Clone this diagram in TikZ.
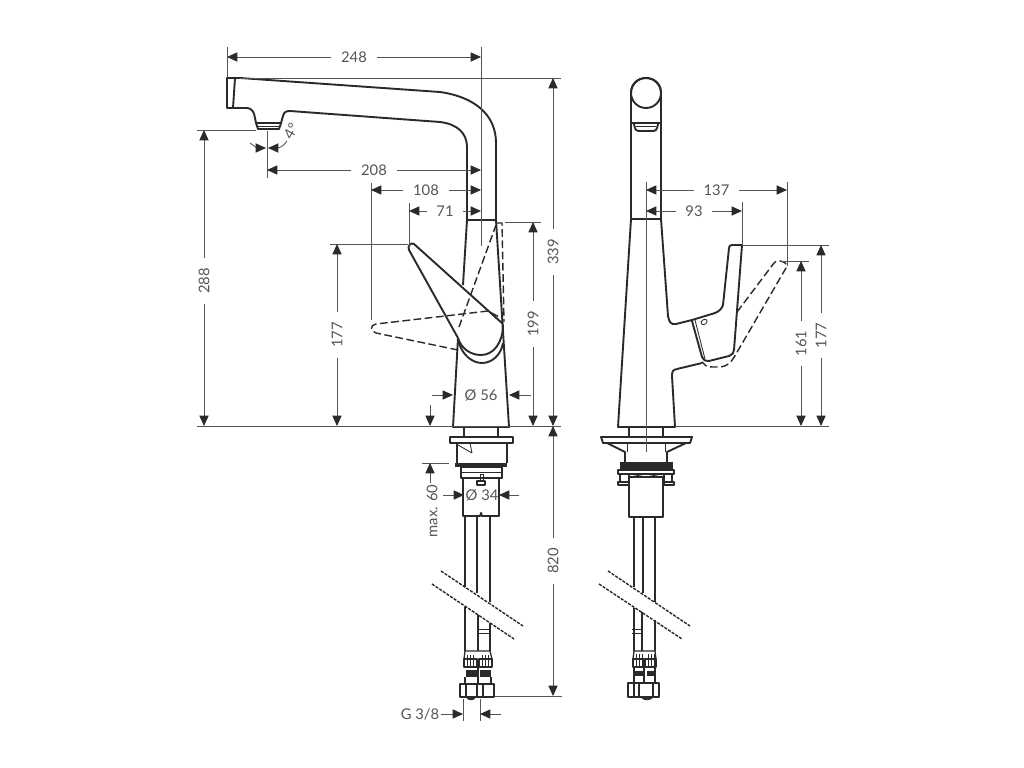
\documentclass[tikz,border=0pt]{standalone}
\usepackage{fontspec}
\setmainfont{Lato}
\usetikzlibrary{arrows.meta}
\definecolor{dimgray}{HTML}{555555}
\definecolor{inkgray}{HTML}{2A2A2A}
\tikzstyle{body} = [draw=inkgray, line width=1.35pt, line join=round]
\tikzstyle{fine} = [draw=inkgray, line width=0.6pt]
\tikzstyle{hidden} = [draw=inkgray, line width=1pt, dash pattern=on 5.5pt off 2.5pt]
\tikzstyle{cut} = [draw=inkgray, line width=1pt, dash pattern=on 2.2pt off 0.9pt]
\tikzstyle{ext} = [draw=dimgray, line width=0.6pt]
\tikzstyle{dim} = [draw=dimgray, line width=0.6pt]
\tikzstyle{dimlabel} = [fill=white, text=dimgray, font=\fontsize{10.5}{12}\selectfont, inner xsep=7pt, inner ysep=1pt]
\tikzstyle{plainlabel} = [text=dimgray, font=\fontsize{10.5}{12}\selectfont, inner sep=1pt]

\begin{document}
\begin{tikzpicture}[x=0.025cm,y=-0.025cm,>={Triangle[length=2.6mm,width=2.3mm,color=inkgray]}]
\useasboundingbox (0,0) rectangle (1024,768);
\fill[white] (0,0) rectangle (1024,768);

% left view, spout
\draw[body] (239,78) -- (227,78) -- (227,108) -- (239,108);
\draw[body] (235,78) -- (233,108);
\draw[body] (239,78) -- (240,78) -- (440,92) .. controls (475,97) and (496,115) .. (496,143) -- (496,220);
\draw[body] (239,108) -- (246,108) .. controls (253,108) and (254,113) .. (255,118) -- (256,123) -- (281,123) -- (283,116) .. controls (284,112) and (286,111) .. (290,111) -- (440,122) .. controls (457,124) and (467,133) .. (467,147) -- (467,220);
\draw[body] (256,123) -- (258,129) -- (279,129) -- (281,123);
\draw[fine] (258,126) -- (279,126);
\draw[body, line width=1.7pt] (467,220) -- (496,220);

% left view, body and lever
\draw[body] (467,220) -- (463,285);
\draw[body] (458,338) -- (453,427) -- (509,427) -- (496,220);
\draw[body] (503,324) -- (414,244) .. controls (411,242) and (407,246) .. (409,250) -- (458,338);
\draw[body] (458,338) .. controls (461,348) and (470,355) .. (481,355) .. controls (494,355) and (503,342) .. (503,325);
\draw[body] (458,340) .. controls (462,356) and (473,363) .. (482,363) .. controls (492,363) and (501,355) .. (503,343);
\draw[hidden] (458,350) -- (376,333) .. controls (370,331) and (370,325) .. (376,324) -- (488,311) -- (501,318);
\draw[hidden] (459,327) -- (496,225);
\draw[hidden] (497,223) -- (502,223) -- (504,322);

% left view, mount
\draw[body] (464,427) -- (464,437);
\draw[body] (498,427) -- (498,437);
\draw[body] (450,437) rectangle (513,443);
\draw[body] (457,443) -- (457,463);
\draw[body] (507,443) -- (507,463);
\fill[inkgray] (455,463) rectangle (507,467);
\draw[body] (461,467) rectangle (502,478);
\draw[fine] (461,472) -- (502,472);
\draw[body] (463,478) -- (463,516) -- (480,516) -- (481,513) -- (482,516) -- (499,516) -- (499,478);
\draw[fine] (458,445) -- (472,453);
\draw[fine] (470,443) -- (472,453);
\draw[body, line width=.9pt] (477,481) rectangle (485,485);
\draw[fine] (480,474) rectangle (483,481);

% left view, hoses
\draw[body] (465,516) -- (465,587);
\draw[body] (477,516) -- (477,593);
\draw[body] (490,516) -- (490,602);
\draw[body] (465,607) -- (465,651);
\draw[body] (478,615) -- (478,651);
\draw[body] (490,623) -- (490,651);
\draw[fine] (478,629) -- (490,629);
\draw[fine] (478,633) -- (490,633);
\draw[cut] (441,571) -- (523,626);
\draw[cut] (432,584) -- (514,639);

% left view, connections
\draw[body, line width=.9pt] (465,651) -- (490,651) -- (492,659);
\draw[body, line width=.9pt] (465,651) -- (464,659);
\draw[body, line width=.9pt] (464,659) rectangle (477,667);
\draw[body, line width=.9pt] (479,659) rectangle (492,667);
\foreach \x in {467,470,473,482,485,488} \draw[fine] (\x,655) -- (\x,667);
\fill[inkgray] (466,670) rectangle (477,677);
\fill[inkgray] (480,670) rectangle (491,677);
\draw[body] (465,677) -- (465,684);
\draw[body] (478,667) -- (478,684);
\draw[body] (491,677) -- (491,684);
\draw[body] (460,684) rectangle (494,697);
\draw[body] (466,684) -- (466,697);
\draw[body] (477,684) -- (477,697);
\draw[body] (483,684) -- (483,697);
\draw[body] (467,697) .. controls (468,700) and (474,700) .. (475,697);

% right view, spout and body
\draw[body] (631,219) -- (631,93) .. controls (631,73) and (661,73) .. (661,93) -- (661,219);
\draw[body] (646,93) circle [radius=15];
\draw[body] (631,123) -- (661,123);
\draw[body] (634,124) .. controls (635,130) and (636,131) .. (640,131) -- (652,131) .. controls (656,131) and (657,130) .. (658,124);
\draw[fine] (636,126) -- (656,126);
\draw[body, line width=1.7pt] (631,219) -- (661,219);
\draw[body] (631,219) -- (618,427) -- (675,427) -- (672,376) .. controls (672,371) and (673,370) .. (677,369) -- (702,363);
\draw[body] (661,219) -- (668,316) .. controls (669,322) and (671,325) .. (676,324) -- (692,320);

% right view, lever
\draw[body] (692,320) -- (715,313) .. controls (720,311) and (722,308) .. (723,305) -- (729,248) .. controls (729,246) and (730,245) .. (732,245) -- (742,245) -- (734,350) .. controls (734,353) and (732,355) .. (729,356) -- (709,361) .. controls (706,362) and (704,360) .. (702,357) -- (692,321);
\draw[fine] (695,320) -- (705,359);
\draw[fine] (701,322) .. controls (703,318) and (708,319) .. (707,322) .. controls (706,325) and (701,326) .. (701,322);
\draw[hidden] (737,312) -- (774,263) .. controls (775,261) and (777,261) .. (780,261) .. controls (785,262) and (788,264) .. (786,268) -- (736,354) .. controls (731,363) and (727,366) .. (721,367) -- (712,367) .. controls (707,367) and (704,365) .. (702,362);

% right view, mount
\draw[body] (629,427) -- (629,437);
\draw[body] (663,427) -- (663,437);
\draw[body] (601,437) -- (692,437) -- (690,443) -- (603,443) -- cycle;
\draw[body] (607,443) -- (625,452) -- (625,462);
\draw[body] (686,443) -- (667,452) -- (667,462);
\draw[fine] (627,443) -- (627,452);
\draw[fine] (665,443) -- (665,452);
\fill[inkgray] (620,462) rectangle (673,470);
\draw[body] (618,470) rectangle (674,474);
\draw[body] (620,474) -- (620,482);
\draw[body] (629,474) -- (629,482);
\draw[body] (664,474) -- (664,482);
\draw[body] (672,474) -- (672,482);
\draw[body] (618,482) rectangle (629,485);
\draw[body] (664,482) rectangle (674,485);
\draw[fine] (630,474) -- (646,477) -- (662,474);
\draw[body] (629,477) -- (629,517) -- (663,517) -- (663,477) -- cycle;

% right view, hoses
\draw[body] (634,517) -- (634,587);
\draw[body] (643,517) -- (643,593);
\draw[body] (655,517) -- (655,602);
\draw[body] (634,608) -- (634,651);
\draw[body] (642,612) -- (642,651);
\draw[body] (655,620) -- (655,651);
\draw[fine] (632,629) -- (642,629);
\draw[fine] (632,633) -- (642,633);
\draw[cut] (608,571) -- (690,626);
\draw[cut] (599,584) -- (682,639);

% right view, connections
\draw[body, line width=.9pt] (634,651) -- (655,651) -- (656,659);
\draw[body, line width=.9pt] (634,651) -- (633,659);
\draw[body, line width=.9pt] (633,659) rectangle (644,667);
\draw[body, line width=.9pt] (645,659) rectangle (656,667);
\foreach \x in {636,639,642,648,651,654} \draw[fine] (\x,654) -- (\x,667);
\fill[inkgray] (635,671) rectangle (643,676);
\fill[inkgray] (647,671) rectangle (654,676);
\draw[body] (634,667) -- (634,683);
\draw[body] (644,667) -- (644,683);
\draw[body] (655,667) -- (655,683);
\draw[body] (628,683) rectangle (659,697);
\draw[body] (634,683) -- (634,697);
\draw[body] (639,683) -- (639,697);
\draw[body] (653,683) -- (653,697);
\draw[body] (642,697) .. controls (643,700) and (651,700) .. (652,697);

% dimension end points
\coordinate (a248) at (227,57);
\coordinate (b248) at (481,57);
\coordinate (a208) at (267,170);
\coordinate (b208) at (481,170);
\coordinate (a108) at (371,190);
\coordinate (b108) at (481,190);
\coordinate (a71) at (409,211);
\coordinate (b71) at (481,211);
\coordinate (a288) at (204,130);
\coordinate (b288) at (204,426);
\coordinate (a177) at (337,244);
\coordinate (b177) at (337,426);
\coordinate (a199) at (533,222);
\coordinate (b199) at (533,426);
\coordinate (a339) at (553,78);
\coordinate (b339) at (553,426);
\coordinate (a820) at (553,426);
\coordinate (b820) at (553,696);
\coordinate (a137) at (646,190);
\coordinate (b137) at (787,190);
\coordinate (a93) at (646,211);
\coordinate (b93) at (742,211);
\coordinate (a161) at (801,261);
\coordinate (b161) at (801,426);
\coordinate (c177) at (821,245);
\coordinate (d177) at (821,426);

% extension lines
\draw[ext] (227,47) -- (227,78);
\draw[ext] (481,47) -- (481,246);
\draw[ext] (240,78) -- (561,78);
\draw[ext] (197,130) -- (256,130);
\draw[ext] (267,131) -- (267,178);
\draw[ext] (371,183) -- (371,320);
\draw[ext] (409,203) -- (409,246);
\draw[ext] (330,244) -- (408,244);
\draw[ext] (505,222) -- (541,222);
\draw[ext] (197,426) -- (561,426);
\draw[ext] (422,463) -- (449,463);
\draw[ext] (495,696) -- (562,696);
\draw[ext] (463,699) -- (463,721);
\draw[ext] (480,699) -- (480,721);
\draw[ext] (646,182) -- (646,452);
\draw[ext] (742,202) -- (742,245);
\draw[ext] (787,182) -- (787,266);
\draw[ext] (742,245) -- (829,245);
\draw[ext] (781,261) -- (809,261);
\draw[ext] (675,426) -- (829,426);

% dimensions
\draw[dim, <->] (a248) -- node[dimlabel, name=l248] {248} (b248);
\draw[dim, <->] (a208) -- node[dimlabel, name=l208] {208} (b208);
\draw[dim, <->] (a108) -- node[dimlabel, name=l108] {108} (b108);
\draw[dim, <->] (a71) -- node[dimlabel, name=l71] {71} (b71);
\draw[dim, <->] (a288) -- node[pos=.51, dimlabel, rotate=90, name=l288] {288} (b288);
\draw[dim, <->] (a177) -- node[dimlabel, rotate=90, name=l177] {177} (b177);
\draw[dim, <->] (a199) -- node[dimlabel, rotate=90, name=l199] {199} (b199);
\draw[dim, <->] (a339) -- node[dimlabel, rotate=90, name=l339] {339} (b339);
\draw[dim, <->] (a820) -- node[dimlabel, rotate=90, name=l820] {820} (b820);
\draw[dim, <->] (a137) -- node[dimlabel, name=l137] {137} (b137);
\draw[dim, <->] (a93) -- node[dimlabel, name=l93] {93} (b93);
\draw[dim, <->] (a161) -- node[dimlabel, rotate=90, name=l161] {161} (b161);
\draw[dim, <->] (c177) -- node[dimlabel, rotate=90, name=l177b] {177} (d177);

% 4 degrees
\node[plainlabel, rotate=60, name=l4] at (291,131) {4°};
\coordinate (a4) at (250,143);
\coordinate (b4) at (257,148);
\coordinate (c4) at (287,141);
\coordinate (d4) at (278,148);
\draw[dim, ->] (a4) -- (b4) -- (266,148);
\draw[dim, ->] (c4) .. controls (285,144) and (282,147) .. (d4) -- (268,148);

% outer arrows
\node[plainlabel, name=l56] at (481,395) {Ø 56};
\coordinate (a56) at (432,395);
\coordinate (b56) at (453,395);
\coordinate (c56) at (531,395);
\coordinate (d56) at (509,395);
\draw[dim, ->] (a56) -- (b56);
\draw[dim, ->] (c56) -- (d56);

\node[plainlabel, name=l34] at (482,495) {Ø 34};
\coordinate (a34) at (443,495);
\coordinate (b34) at (464,495);
\coordinate (c34) at (519,495);
\coordinate (d34) at (499,495);
\draw[dim, ->] (a34) -- (b34);
\draw[dim, ->] (c34) -- (d34);

\node[plainlabel, rotate=90, name=l60] at (432,511) {max. 60};
\coordinate (a60) at (430,405);
\coordinate (b60) at (430,426);
\coordinate (c60) at (430,483);
\coordinate (d60) at (430,463);
\draw[dim, ->] (a60) -- (b60);
\draw[dim, ->] (c60) -- (d60);

\node[plainlabel, name=l38] at (420,714) {G 3/8};
\coordinate (a38) at (501,714);
\coordinate (b38) at (480,714);
\coordinate (c38) at (463,714);
\draw[dim, ->] (l38) -- (c38);
\draw[dim, ->] (a38) -- (b38);
\end{tikzpicture}
\end{document}
